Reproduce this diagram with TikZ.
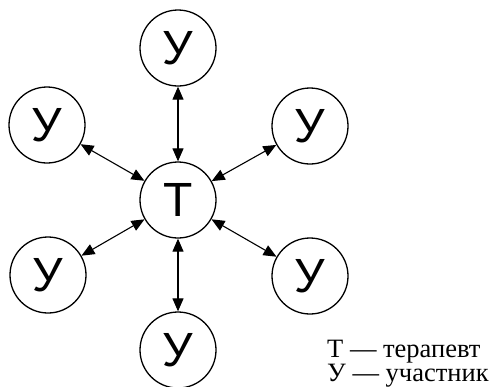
\documentclass[tikz,border=0pt]{standalone}
\usepackage{fontspec}
\setmainfont{Liberation Serif}
\newfontfamily\sansf{Liberation Sans}
\usetikzlibrary{arrows.meta}
\begin{document}
\begin{tikzpicture}[x=1bp,y=-1bp,
  circ/.style={draw,circle,line width=1.3bp,minimum size=76bp,inner sep=0pt,
    font=\sansf\fontsize{48bp}{48bp}\selectfont},
  link/.style={line width=1.1bp,{Triangle[length=13bp,width=11bp]}-{Triangle[length=13bp,width=11bp]}},
  legend/.style={anchor=base west,inner sep=0pt,font=\fontsize{26.5bp}{24bp}\selectfont}]
\useasboundingbox (0,0) rectangle (489,386);
\node[circ] (t) at (178,200) {Т};
\node[circ] (u1) at (178,48) {У};
\node[circ] (u2) at (47,125) {У};
\node[circ] (u3) at (310,126) {У};
\node[circ] (u4) at (48,275) {У};
\node[circ] (u5) at (310,276) {У};
\node[circ] (u6) at (178,350) {У};
\foreach \u in {u1,u2,u3,u4,u5,u6} \draw[link] (\u) -- (t);
\node[legend] (l1) at (327,357) {Т — терапевт};
\node[legend] (l2) at (327,381) {У — участник};
\end{tikzpicture}
\end{document}
